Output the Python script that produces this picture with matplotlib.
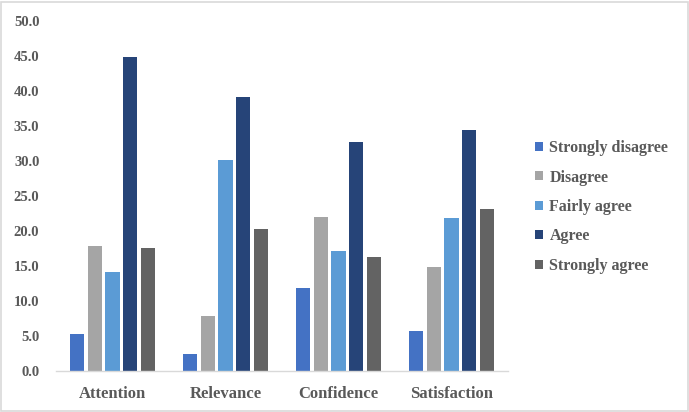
import matplotlib
matplotlib.use("Agg")
import matplotlib.pyplot as plt
import numpy as np
from matplotlib.patches import Rectangle

categories = ["Attention", "Relevance", "Confidence", "Satisfaction"]
series_names = ["Strongly disagree", "Disagree", "Fairly agree", "Agree", "Strongly agree"]
strongly_disagree = [5.3, 2.4, 11.8, 5.7]
disagree = [17.9, 7.8, 22.0, 14.9]
fairly_agree = [14.2, 30.2, 17.1, 21.8]
agree = [44.9, 39.2, 32.7, 34.4]
strongly_agree = [17.6, 20.3, 16.3, 23.1]
yticks = [0, 5, 10, 15, 20, 25, 30, 35, 40, 45, 50]

series = [strongly_disagree, disagree, fairly_agree, agree, strongly_agree]
colors = ["#4472C4", "#A5A5A5", "#5B9BD5", "#264478", "#636363"]

plt.rcParams['font.family'] = ['Liberation Serif', 'DejaVu Serif']
text_color = "#595959"

fig = plt.figure(figsize=(6.89, 4.12), dpi=100)
fig.patches.append(Rectangle((0.002, 0.002), 0.996, 0.994, transform=fig.transFigure,
                             fill=False, edgecolor="#D9D9D9", linewidth=1.2))
W, H = 689, 412
left, right, top, bottom = 56, 508, 21, 371
ax = fig.add_axes([left / W, 1 - bottom / H, (right - left) / W, (bottom - top) / H])

x = np.arange(len(categories))
bw = 0.124
pitch = 0.155
for i, (vals, c, name) in enumerate(zip(series, colors, series_names)):
    ax.bar(x + (i - 2) * pitch, vals, width=bw, color=c, label=name)

ax.set_xlim(-0.5, len(categories) - 0.5)
ax.set_ylim(0, 50)
ax.set_yticks(yticks)
ax.set_yticklabels([f"{v:.1f}" for v in yticks])
ax.set_xticks(x)
ax.set_xticklabels(categories)
for s in ["top", "right", "left"]:
    ax.spines[s].set_visible(False)
ax.spines["bottom"].set_color("#D9D9D9")
ax.spines["bottom"].set_linewidth(1.0)
ax.tick_params(axis="both", length=0, labelcolor=text_color)
ax.tick_params(axis="y", pad=12, labelsize=10.5)
ax.tick_params(axis="x", pad=11, labelsize=12)
for lbl in ax.get_xticklabels() + ax.get_yticklabels():
    lbl.set_fontweight("bold")

leg = fig.legend(loc="center left", bbox_to_anchor=(535 / W, 1 - 207 / H), frameon=False,
                 prop={"weight": "bold", "size": 11.5}, handlelength=0.5, handleheight=0.5,
                 handletextpad=0.4, labelspacing=0.84, borderpad=0, borderaxespad=0)
for t in leg.get_texts():
    t.set_color(text_color)

fig.savefig("out.png", dpi=100)
